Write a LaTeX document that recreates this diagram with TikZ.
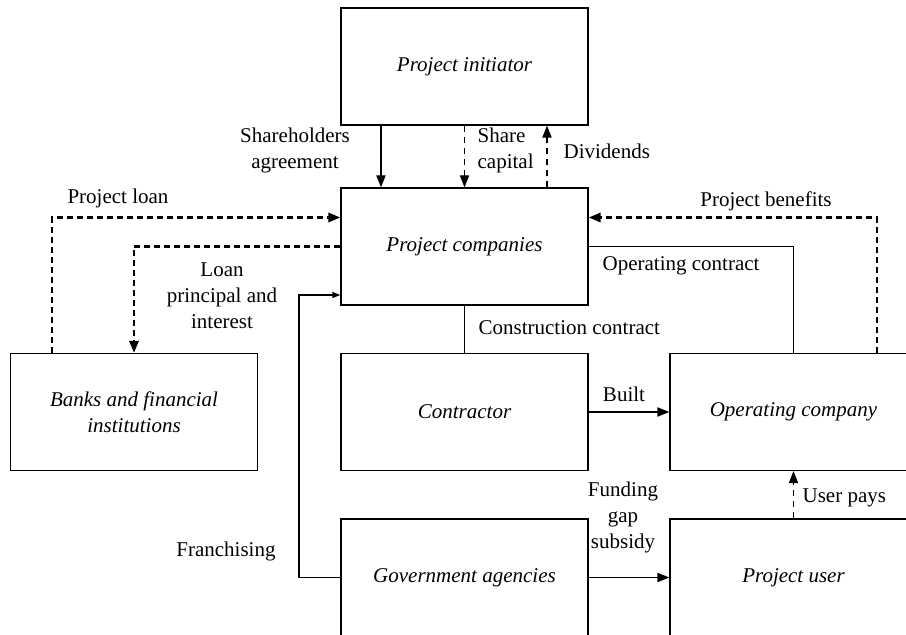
\documentclass[tikz,border=0pt]{standalone}
\usepackage{fontspec}
\setmainfont{Liberation Serif}
\usetikzlibrary{arrows.meta}
\usetikzlibrary{positioning}

\begin{document}
\begin{tikzpicture}[%
x=.5pt, y=-.5pt,
>={Triangle[length=6pt,width=4.6pt]},
line width=.65pt,
font=\fontsize{10.5}{13}\selectfont,
party/.style={draw, minimum width=123.5pt, minimum height=58.5pt, inner sep=0pt, align=center, font=\fontsize{10.5}{13}\selectfont\itshape},
money/.style={line width=1.3pt, dash pattern=on 3pt off 2pt},
paper/.style={dash pattern=on 3.2pt off 2.3pt},
smalltip/.style={-{Triangle[length=4pt,width=3pt]}},
lbl/.style={inner sep=0pt, align=center},
]

\useasboundingbox (0,0) rectangle (906,635);

% the parties
\node[party](init)  at (464.5,66.5){Project initiator};
\node[party](comp)  at (464.5,246.5){Project companies};
\node[party](banks) at (134,412){Banks and financial\\institutions};
\node[party](contr) at (464.5,412){Contractor};
\node[party](opco)  at (793.5,412){Operating company};
\node[party](gov)   at (464.5,577.5){Government agencies};
\node[party](user)  at (793.5,577.5){Project user};

% columns and rows of the bent lines
\coordinate(sa) at (381,0);
\coordinate(div) at (547,0);
\coordinate(pl) at (52,217.5);
\coordinate(pb) at (877,217.5);
\coordinate(fr) at (299,295);

% initiator <-> companies
\draw[->] (init.south -| sa)--(comp.north -| sa);
\draw[paper,->] (init.south)--(comp.north);
\draw[paper,->] (comp.north -| div)--(init.south -| div);

% banks
\draw[money,->] (banks.north -| pl) |- (comp.west |- pl);
\draw[money,->] (comp.west) -| (banks.north);

% contracts
\draw (comp.south)--(contr.north);
\draw (comp.east) -| (opco.north);
\draw[money,->] (opco.north -| pb) |- (comp.east |- pb);
\draw[->] (contr.east)--(opco.west);

% government and users
\draw[smalltip] (gov.west) -| (fr)--(comp.west |- fr);
\draw[->] (gov.east)--(user.west);
\draw[paper,->] (user.north)--(opco.south);

% labels
\node[lbl](lsa)  at (295,150.5){Shareholders\\agreement};
\node[lbl, align=left, anchor=west](lsc) at (477,150.5){Share\\capital};
\node[lbl, anchor=west](ldiv) at (563,151){Dividends};
\node[lbl](lpl)  at (118,198){Project loan};
\node[lbl](llp)  at (222,296){Loan\\principal and\\interest};
\node[lbl](lfr)  at (226,551){Franchising};
\node[lbl, anchor=west](lcc) at (478,328){Construction contract};
\node[lbl, anchor=west](loc) at (602,266){Operating contract};
\node[lbl](lpb)  at (766,201){Project benefits};
\node[lbl](lbu)  at (624,394){Built};
\node[lbl](lfg)  at (623,517){Funding\\gap\\subsidy};
\node[lbl, anchor=west](lup) at (802,498){User pays};

\end{tikzpicture}
\end{document}
